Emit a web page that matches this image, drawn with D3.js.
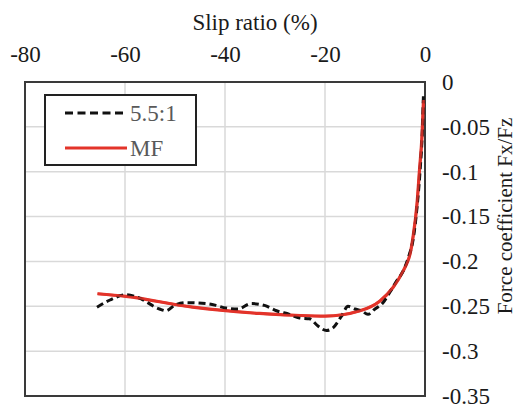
<!DOCTYPE html>
<html>
<head>
<meta charset="utf-8">
<script src="https://cdn.jsdelivr.net/npm/d3@7"></script>
<style>
  html, body { margin: 0; padding: 0; background: #fff; }
</style>
</head>
<body>
<svg id="chart" width="516" height="408" font-family="Liberation Serif"></svg>
<script>
// ---- data ----
const xTickValues = [-80, -60, -40, -20, 0];
const xTickLabels = ["-80", "-60", "-40", "-20", "0"];
const yTickValues = [0, -0.05, -0.1, -0.15, -0.2, -0.25, -0.3, -0.35];
const yTickLabels = ["0", "-0.05", "-0.1", "-0.15", "-0.2", "-0.25", "-0.3", "-0.35"];
const seriesNames = ["5.5:1", "MF"];

// measured (5.5:1) slip ratio (%) and force coefficient
const measSlip = [-65.6, -63.0, -59.8, -57.5, -53.1, -51.8, -50.1, -47.8, -43.8, -41.8, -39.8, -37.4, -34.8, -32.1, -29.7, -27.1, -25.1, -23.1, -21.4, -19.7, -18.4, -16.7, -15.4, -14.0, -12.7, -11.4, -10.0, -8.4, -7.0, -5.7, -4.3, -3.3, -2.3, -1.6, -1.0, -0.5, -0.3];
const measFx   = [-0.251, -0.243, -0.237, -0.240, -0.253, -0.255, -0.249, -0.246, -0.247, -0.249, -0.252, -0.253, -0.247, -0.249, -0.255, -0.259, -0.263, -0.264, -0.272, -0.277, -0.274, -0.261, -0.250, -0.253, -0.255, -0.259, -0.253, -0.246, -0.234, -0.222, -0.210, -0.195, -0.173, -0.140, -0.100, -0.050, -0.012];

// Magic Formula fit
const mfSlip = [-65.5, -59.8, -46.5, -33.1, -26.0, -20.0, -13.0, -9.0, -6.4, -4.3, -3.7, -3.0, -2.4, -1.6, -1.1, -0.6, -0.3];
const mfFx   = [-0.236, -0.239, -0.251, -0.258, -0.260, -0.261, -0.255, -0.244, -0.229, -0.210, -0.203, -0.192, -0.173, -0.136, -0.098, -0.060, -0.020];

// ---- layout ----
const FONT = "Liberation Serif";
const svg = d3.select("#chart");
const L = 25, R = 425, T = 82, B = 396;
const x = d3.scaleLinear().domain([-80, 0]).range([L, R]);
const y = d3.scaleLinear().domain([-0.35, 0]).range([B, T]);

// gridlines
const grid = svg.append("g");
grid.selectAll("line.vx").data(xTickValues).join("line")
  .attr("x1", d => x(d)).attr("x2", d => x(d))
  .attr("y1", T).attr("y2", B)
  .attr("stroke", "#d9d9d9").attr("stroke-width", 1.5);
grid.selectAll("line.hy").data(yTickValues).join("line")
  .attr("y1", d => y(d)).attr("y2", d => y(d))
  .attr("x1", L).attr("x2", R)
  .attr("stroke", "#d9d9d9").attr("stroke-width", 1.5);

// plot border
svg.append("rect").attr("x", L).attr("y", T).attr("width", R - L).attr("height", B - T)
  .attr("fill", "none").attr("stroke", "#3a3a3a").attr("stroke-width", 2);

// axes
const xAxis = d3.axisTop(x).tickValues(xTickValues).tickSize(0).tickPadding(20)
  .tickFormat((d, i) => xTickLabels[i]);
const gx = svg.append("g").attr("transform", `translate(0,${T})`).call(xAxis)
  .attr("font-family", FONT).attr("font-size", 23);
gx.select(".domain").remove();
gx.selectAll("text").attr("fill", "#1a1a1a").attr("font-family", FONT).attr("font-size", 23);

const yAxis = d3.axisRight(y).tickValues(yTickValues).tickSize(0).tickPadding(17)
  .tickFormat((d, i) => yTickLabels[i]);
const gy = svg.append("g").attr("transform", `translate(${R},0)`).call(yAxis)
  .attr("font-family", FONT).attr("font-size", 23);
gy.select(".domain").remove();
gy.selectAll("text").attr("fill", "#1a1a1a").attr("font-family", FONT).attr("font-size", 23);

// axis titles
svg.append("text").attr("x", 255).attr("y", 30).attr("text-anchor", "middle")
  .attr("font-family", FONT).attr("font-size", 23).attr("fill", "#1a1a1a")
  .text("Slip ratio (%)");
svg.append("text").attr("transform", "translate(512,216) rotate(-90)")
  .attr("text-anchor", "middle").attr("font-family", FONT).attr("font-size", 21)
  .attr("fill", "#1a1a1a")
  .text("Force coefficient Fx/Fz");

// lines
const meas = measSlip.map((s, i) => ({ s, f: measFx[i] }));
const mf = mfSlip.map((s, i) => ({ s, f: mfFx[i] }));
const line = d3.line().x(d => x(d.s)).y(d => y(d.f)).curve(d3.curveMonotoneX);

svg.append("path").datum(mf).attr("d", line)
  .attr("fill", "none").attr("stroke", "#e3342a").attr("stroke-width", 3.2);
svg.append("path").datum(meas).attr("d", line)
  .attr("fill", "none").attr("stroke", "#111").attr("stroke-width", 3)
  .attr("stroke-dasharray", "7,4");
svg.append("path").datum(mf).attr("d", line)
  .attr("fill", "none").attr("stroke", "#e3342a").attr("stroke-width", 2.4).attr("opacity", 0.85);

// legend
const lg = svg.append("g");
lg.append("rect").attr("x", 45).attr("y", 95).attr("width", 151).attr("height", 70)
  .attr("fill", "#fff").attr("stroke", "#222").attr("stroke-width", 2);
const legendItems = [
  { name: seriesNames[0], color: "#111", dash: "8,4.5", yy: 113 },
  { name: seriesNames[1], color: "#e3342a", dash: null, yy: 148 }
];
legendItems.forEach(it => {
  lg.append("line").attr("x1", 65).attr("x2", 127).attr("y1", it.yy).attr("y2", it.yy)
    .attr("stroke", it.color).attr("stroke-width", 3.2)
    .attr("stroke-dasharray", it.dash);
  lg.append("text").attr("x", 130).attr("y", it.yy + 8)
    .attr("font-family", FONT).attr("font-size", 23)
    .attr("fill", "#595959").text(it.name);
});
</script>
</body>
</html>
